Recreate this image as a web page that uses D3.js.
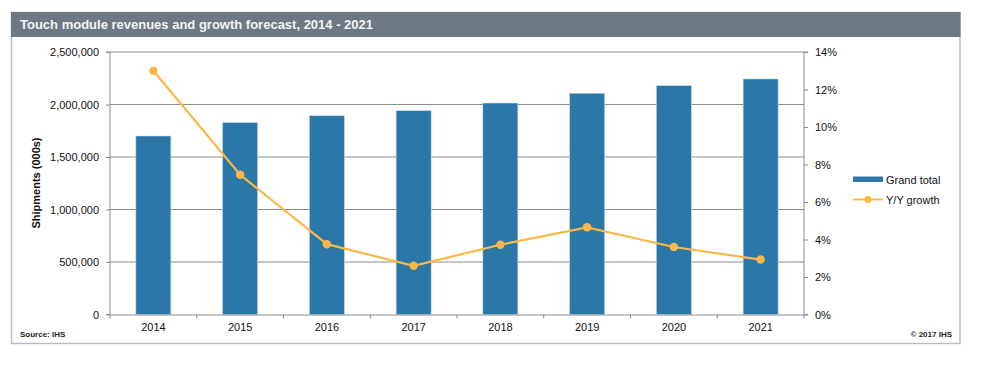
<!DOCTYPE html>
<html><head><meta charset="utf-8">
<script src="https://cdn.jsdelivr.net/npm/d3@7"></script>
<style>
body{margin:0;background:#fff;}
text{font-family:"Liberation Sans",Arial,sans-serif;}
</style></head>
<body><svg id="c" width="995" height="368"></svg>
<script>
const years = ["2014","2015","2016","2017","2018","2019","2020","2021"];
const grandTotal = [1700000,1827000,1893000,1941000,2014000,2107000,2179000,2243000];
const yoyGrowth = [13.0,7.45,3.75,2.6,3.72,4.65,3.6,2.93];
const leftTicks = [0,500000,1000000,1500000,2000000,2500000];
const rightTicks = [0,2,4,6,8,10,12,14];

const svg = d3.select("#c");
const L=110, R=804, T=52, B=314.5;

// frame
svg.append("rect").attr("x",11.5).attr("y",12.5).attr("width",948.5).attr("height",331).attr("fill","#fff").attr("stroke","#b9bdc3").attr("stroke-width",1.5);
svg.append("rect").attr("x",11).attr("y",12).attr("width",949.5).attr("height",25).attr("fill","#6e7884");
svg.append("text").attr("x",20).attr("y",29).attr("fill","#f4f4f4").attr("font-size",13).attr("font-weight","bold").text("Touch module revenues and growth forecast, 2014 - 2021");

const x = d3.scaleBand().domain(years).range([L,R]).paddingInner(0.6).paddingOuter(0.3);
const xb = d3.scaleBand().domain(years).range([L,R]);
const yL = d3.scaleLinear().domain([0,2500000]).range([B,T]);
const yR = d3.scaleLinear().domain([0,14]).range([B,T]);

// gridlines
svg.append("g").selectAll("line").data(leftTicks.filter(d=>d>0)).join("line")
 .attr("x1",L).attr("x2",R).attr("y1",d=>yL(d)).attr("y2",d=>yL(d)).attr("stroke","#8c8c8c").attr("stroke-width",1);

// left axis
const gl = svg.append("g").attr("transform",`translate(${L},0)`)
 .call(d3.axisLeft(yL).tickValues(leftTicks).tickFormat(d3.format(",")).tickSize(4).tickPadding(7));
gl.select(".domain").attr("stroke","#8c8c8c").attr("d",`M-4,${T}H0V${B}H-4`);
gl.selectAll(".tick line").attr("stroke","#8c8c8c");
gl.selectAll("text").attr("font-size",11).attr("fill","#111").attr("font-family","Liberation Sans, Arial, sans-serif");

// right axis
const gr = svg.append("g").attr("transform",`translate(${R},0)`)
 .call(d3.axisRight(yR).tickValues(rightTicks).tickFormat(d=>d+"%").tickSize(4).tickPadding(7));
gr.select(".domain").attr("stroke","#8c8c8c").attr("d",`M4,${T}H0V${B}H4`);
gr.selectAll(".tick line").attr("stroke","#8c8c8c");
gr.selectAll("text").attr("font-size",11).attr("fill","#111").attr("font-family","Liberation Sans, Arial, sans-serif");

// bars
svg.append("g").selectAll("rect").data(years).join("rect")
 .attr("x",d=>xb(d)+xb.bandwidth()/2-17.5).attr("width",35)
 .attr("y",(d,i)=>yL(grandTotal[i])).attr("height",(d,i)=>B-yL(grandTotal[i]))
 .attr("fill","#2b77a7").attr("stroke","#bcd6e8").attr("stroke-width",0.6);

// x axis
const gx = svg.append("g").attr("transform",`translate(0,${B})`)
 .call(d3.axisBottom(xb).tickSize(0).tickPadding(9));
gx.select(".domain").attr("stroke","#8c8c8c");
gx.selectAll("text").attr("font-size",11).attr("fill","#111").attr("font-family","Liberation Sans, Arial, sans-serif");
const edges = years.map(d=>xb(d)).concat([R]);
svg.append("g").selectAll("line").data(edges).join("line")
 .attr("x1",d=>d).attr("x2",d=>d).attr("y1",B).attr("y2",B+4).attr("stroke","#8c8c8c");

// line
const line = d3.line().x((d,i)=>xb(years[i])+xb.bandwidth()/2).y(d=>yR(d));
svg.append("path").datum(yoyGrowth).attr("d",line).attr("fill","none").attr("stroke","#fbb748").attr("stroke-width",2.2);
svg.append("g").selectAll("circle").data(yoyGrowth).join("circle")
 .attr("cx",(d,i)=>xb(years[i])+xb.bandwidth()/2).attr("cy",d=>yR(d)).attr("r",4.2).attr("fill","#fbb748");

// y title
svg.append("text").attr("transform","translate(40,183) rotate(-90)").attr("text-anchor","middle")
 .attr("font-size",11).attr("font-weight","bold").attr("fill","#111").text("Shipments (000s)");

// legend
svg.append("rect").attr("x",853).attr("y",176.5).attr("width",30).attr("height",5.5).attr("fill","#2b77a7");
svg.append("text").attr("x",886).attr("y",183.5).attr("font-size",11).attr("fill","#111").text("Grand total");
svg.append("line").attr("x1",853).attr("x2",883).attr("y1",199.5).attr("y2",199.5).attr("stroke","#fbb748").attr("stroke-width",2);
svg.append("circle").attr("cx",868).attr("cy",199.5).attr("r",3.5).attr("fill","#fbb748");
svg.append("text").attr("x",886).attr("y",204).attr("font-size",11).attr("fill","#111").text("Y/Y growth");

// footer
svg.append("text").attr("x",20).attr("y",337).attr("font-size",8).attr("font-weight","bold").attr("fill","#222").text("Source: IHS");
svg.append("text").attr("x",952).attr("y",337).attr("text-anchor","end").attr("font-size",8).attr("font-weight","bold").attr("fill","#222").text("© 2017 IHS");
</script></body></html>
